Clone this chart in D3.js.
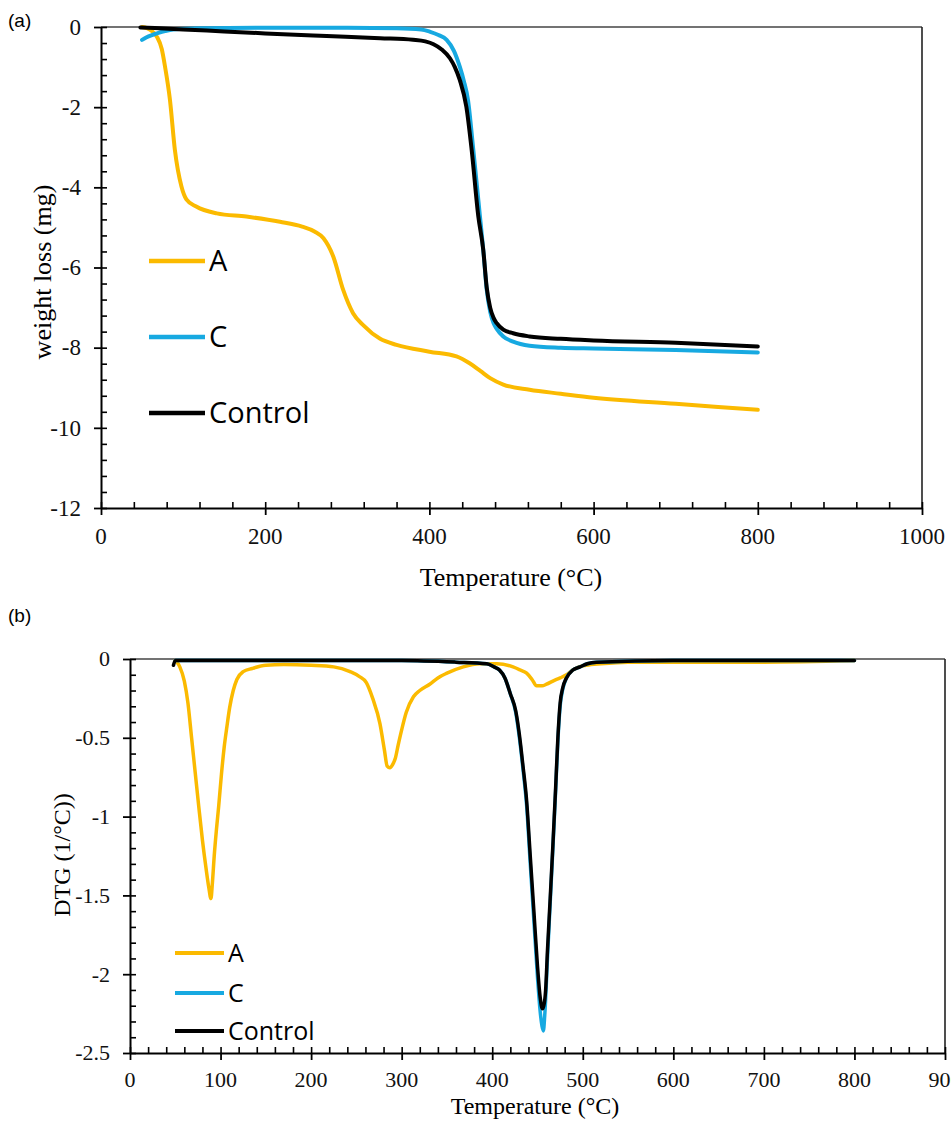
<!DOCTYPE html>
<html>
<head>
<meta charset="utf-8">
<script src="https://cdn.jsdelivr.net/npm/d3@7"></script>
<style>
  body { margin: 0; background: #fff; }
  .axis path, .axis line { stroke: #000; }
  svg text.lbl { font-family: "Liberation Serif", serif; }
</style>
</head>
<body>
<div id="chart"></div>
<script>
// ---- panel (a) TGA: weight loss (mg) vs temperature ----
const tgaTempA = [50, 56, 62, 68, 74, 78, 84, 90, 98, 104, 116, 141, 177, 218, 245, 260, 271, 283, 295, 307, 320, 340, 360, 400, 433, 449, 462, 474, 490, 522, 560, 600, 700, 800];
const tgaLossA = [0, -0.03, -0.1, -0.24, -0.55, -0.99, -1.82, -3.07, -3.98, -4.3, -4.48, -4.65, -4.73, -4.86, -4.98, -5.1, -5.27, -5.73, -6.56, -7.14, -7.45, -7.78, -7.93, -8.1, -8.22, -8.39, -8.58, -8.76, -8.92, -9.05, -9.15, -9.25, -9.4, -9.55];

const tgaTempC = [50, 55, 62, 68, 78, 88, 120, 200, 300, 360, 390, 401, 411, 421, 430, 437, 442, 447, 453.5, 461.6, 465.6, 469.8, 474, 478, 482, 490, 502, 522, 560, 600, 700, 800];
const tgaLossC = [-0.32, -0.26, -0.2, -0.16, -0.1, -0.06, -0.03, -0.02, -0.02, -0.03, -0.06, -0.12, -0.2, -0.32, -0.6, -0.99, -1.35, -1.82, -3.07, -4.73, -5.56, -6.55, -7.1, -7.38, -7.53, -7.72, -7.85, -7.95, -8.0, -8.02, -8.06, -8.12];

const tgaTempCtrl = [48, 100, 150, 200, 267, 340, 380, 395, 405, 415, 425, 431, 437, 445, 451.5, 459.6, 465.6, 469.8, 474, 478, 482, 490, 502, 522, 560, 600, 700, 800];
const tgaLossCtrl = [-0.01, -0.06, -0.11, -0.16, -0.22, -0.28, -0.32, -0.36, -0.43, -0.56, -0.78, -1.0, -1.32, -1.99, -3.07, -4.73, -5.56, -6.5, -7.0, -7.25, -7.39, -7.55, -7.64, -7.72, -7.78, -7.82, -7.88, -7.97];

const tgaXTicks = [0, 200, 400, 600, 800, 1000];
const tgaYTicks = [-12, -10, -8, -6, -4, -2, 0];

// ---- panel (b) DTG (1/°C) vs temperature ----
const dtgTempA = [50, 55, 60, 64, 68, 72, 76, 80, 84, 87, 89.4, 91, 93, 95.5, 98, 101, 104, 107, 110, 114, 118, 125, 135, 150, 170, 200, 225, 243, 253, 261, 268, 276, 281, 284, 287, 290, 293, 296, 300, 305, 313, 320, 331, 340, 350, 368, 386, 405, 423, 431, 438, 444, 449, 455, 460, 467, 475, 482, 489, 496, 504, 520, 550, 600, 700, 800];
const dtgValA = [-0.01, -0.05, -0.14, -0.28, -0.5, -0.72, -0.94, -1.15, -1.33, -1.45, -1.52, -1.42, -1.25, -1.08, -0.93, -0.73, -0.56, -0.43, -0.31, -0.2, -0.13, -0.08, -0.06, -0.04, -0.035, -0.04, -0.05, -0.08, -0.11, -0.15, -0.25, -0.41, -0.58, -0.68, -0.69, -0.67, -0.63, -0.55, -0.45, -0.34, -0.24, -0.2, -0.16, -0.12, -0.09, -0.05, -0.03, -0.03, -0.05, -0.07, -0.09, -0.13, -0.17, -0.17, -0.16, -0.14, -0.12, -0.1, -0.07, -0.05, -0.04, -0.03, -0.02, -0.02, -0.02, -0.01];

const dtgTempC = [50, 100, 200, 300, 360, 394, 402, 408, 414, 420, 426, 430, 434, 438, 442, 446, 450, 453, 455, 456.5, 458, 461, 464, 467, 470, 472.5, 475, 478, 482, 489, 497, 505, 515, 600, 700, 800];
const dtgValC = [-0.01, -0.01, -0.01, -0.01, -0.02, -0.03, -0.05, -0.07, -0.12, -0.22, -0.34, -0.5, -0.7, -0.93, -1.3, -1.66, -2.02, -2.24, -2.33, -2.36, -2.26, -1.9, -1.55, -1.2, -0.84, -0.52, -0.3, -0.19, -0.12, -0.07, -0.05, -0.03, -0.02, -0.01, -0.01, -0.01];

const dtgTempCtrl = [48, 50, 100, 200, 300, 360, 394, 402, 408, 414, 420, 426, 430, 434, 438, 442, 446, 450, 453, 455.4, 457, 459, 461, 464, 467, 470, 472.5, 475, 478, 482, 489, 497, 505, 515, 600, 700, 800];
const dtgValCtrl = [-0.04, -0.01, -0.01, -0.01, -0.01, -0.02, -0.03, -0.05, -0.07, -0.12, -0.22, -0.33, -0.48, -0.68, -0.9, -1.25, -1.6, -1.95, -2.15, -2.22, -2.2, -2.1, -1.85, -1.52, -1.18, -0.82, -0.5, -0.28, -0.18, -0.12, -0.07, -0.05, -0.03, -0.02, -0.01, -0.01, -0.01];

const dtgXTicks = [0, 100, 200, 300, 400, 500, 600, 700, 800, 900];
const dtgYTicks = [-2.5, -2, -1.5, -1, -0.5, 0];

const seriesNames = ["A", "C", "Control"];
const seriesColors = ["#FBBA00", "#17A9E1", "#000000"];

const serif = "Liberation Serif";
const width = 951, height = 1121;
const svg = d3.select("#chart").append("svg")
    .attr("width", width)
    .attr("height", height)
    .attr("font-family", serif);

function zip(xs, ys) {
    return xs.map((x, i) => ({t: x, v: ys[i]}));
}

// tick labels drawn as plain text so the serif face is kept
function tickLabels(g, ticks, pos, cfg) {
    g.selectAll(null).data(ticks).enter().append("text")
        .attr("class", "lbl")
        .attr("font-family", serif)
        .attr("font-size", cfg.tickFont)
        .attr("fill", "#111")
        .each(function (d) {
            let p = pos(d);
            d3.select(this).attr("x", p[0]).attr("y", p[1])
                .attr("text-anchor", p[2]).attr("dy", p[3]);
        })
        .text(d => String(d));
}

function drawPanel(cfg) {
    let g = svg.append("g");
    let x = d3.scaleLinear().domain(cfg.xDomain).range(cfg.xRange);
    let y = d3.scaleLinear().domain(cfg.yDomain).range(cfg.yRange);
    let left = cfg.xRange[0], right = cfg.xRange[1];
    let top = cfg.yRange[1], bottom = cfg.yRange[0];

    // thin frame on top and right
    g.append("line").attr("x1", left).attr("x2", right).attr("y1", top).attr("y2", top)
        .attr("stroke", "#444").attr("stroke-width", 1.3);
    g.append("line").attr("x1", right).attr("x2", right).attr("y1", top).attr("y2", bottom)
        .attr("stroke", "#222").attr("stroke-width", 1.6);

    let xMinor = d3.range(cfg.xDomain[0], cfg.xDomain[1] + 1e-9, cfg.xMinorStep);
    let yMinor = d3.range(cfg.yDomain[0], cfg.yDomain[1] + 1e-9, cfg.yMinorStep);

    // inside ticks (major + minor)
    g.append("g").attr("class", "axis")
        .attr("transform", "translate(0," + bottom + ")")
        .call(d3.axisTop(x).tickValues(xMinor).tickSize(6).tickSizeOuter(0).tickFormat(""))
        .call(a => a.select(".domain").remove())
        .selectAll("line").attr("stroke-width", 1.6);
    g.append("g").attr("class", "axis")
        .attr("transform", "translate(" + left + ",0)")
        .call(d3.axisRight(y).tickValues(yMinor).tickSize(6).tickSizeOuter(0).tickFormat(""))
        .call(a => a.select(".domain").remove())
        .selectAll("line").attr("stroke-width", 1.6);

    // outside major ticks
    let xAxis = g.append("g").attr("class", "axis")
        .attr("transform", "translate(0," + bottom + ")")
        .call(d3.axisBottom(x).tickValues(cfg.xTicks).tickSize(7).tickSizeOuter(0).tickFormat(""));
    xAxis.select(".domain").attr("stroke-width", 2);
    xAxis.selectAll("line").attr("stroke-width", 1.8);

    let yAxis = g.append("g").attr("class", "axis")
        .attr("transform", "translate(" + left + ",0)")
        .call(d3.axisLeft(y).tickValues(cfg.yTicks).tickSize(7).tickSizeOuter(0).tickFormat(""));
    yAxis.select(".domain").attr("stroke-width", 2);
    yAxis.selectAll("line").attr("stroke-width", 1.8);

    tickLabels(g, cfg.xTicks, d => [x(d), bottom + cfg.xPad, "middle", "0.71em"], cfg);
    tickLabels(g, cfg.yTicks, d => [left - cfg.yPad, y(d), "end", "0.34em"], cfg);

    // curves
    let line = d3.line()
        .x(d => x(d.t))
        .y(d => y(d.v))
        .curve(d3.curveMonotoneX);
    cfg.series.forEach((s, i) => {
        g.append("path")
            .attr("d", line(s))
            .attr("fill", "none")
            .attr("stroke", seriesColors[i])
            .attr("stroke-width", cfg.lineWidth)
            .attr("stroke-linejoin", "round")
            .attr("stroke-linecap", "round");
    });

    // legend
    seriesNames.forEach((name, i) => {
        let ly = cfg.legendY[i];
        g.append("line")
            .attr("x1", cfg.legendX[0]).attr("x2", cfg.legendX[1])
            .attr("y1", ly).attr("y2", ly)
            .attr("stroke", seriesColors[i])
            .attr("stroke-width", cfg.legendWidth);
        g.append("text")
            .attr("x", cfg.legendX[1] + 4)
            .attr("y", ly)
            .attr("dy", "0.36em")
            .attr("font-family", "Open Sans")
            .attr("font-size", cfg.legendFont)
            .text(name);
    });

    // titles
    g.append("text")
        .attr("class", "lbl")
        .attr("x", cfg.xTitle[0]).attr("y", cfg.xTitle[1])
        .attr("text-anchor", "middle")
        .attr("font-size", cfg.titleFont)
        .text("Temperature (°C)");
    g.append("text")
        .attr("class", "lbl")
        .attr("transform", "translate(" + cfg.yTitle[0] + "," + cfg.yTitle[1] + ") rotate(-90)")
        .attr("text-anchor", "middle")
        .attr("dy", "0.35em")
        .attr("font-size", cfg.titleFont)
        .text(cfg.yLabel);
    g.append("text")
        .attr("x", 8).attr("y", cfg.panelY)
        .attr("font-family", "Liberation Sans")
        .attr("font-size", 19)
        .text(cfg.panel);
}

drawPanel({
    panel: "(a)", panelY: 27,
    xDomain: [0, 1000], xRange: [101, 922],
    yDomain: [-12, 0], yRange: [508, 27],
    xTicks: tgaXTicks, yTicks: tgaYTicks,
    xMinorStep: 40, yMinorStep: 0.4,
    xPad: 20, yPad: 20, tickFont: 23,
    series: [zip(tgaTempA, tgaLossA), zip(tgaTempC, tgaLossC), zip(tgaTempCtrl, tgaLossCtrl)],
    lineWidth: 4,
    legendX: [149, 205], legendY: [261, 337, 413], legendWidth: 4.5, legendFont: 29,
    titleFont: 26, xTitle: [511, 586], yTitle: [42, 272],
    yLabel: "weight loss (mg)"
});

drawPanel({
    panel: "(b)", panelY: 622,
    xDomain: [0, 900], xRange: [130, 945],
    yDomain: [-2.5, 0], yRange: [1053, 659],
    xTicks: dtgXTicks, yTicks: dtgYTicks,
    xMinorStep: 20, yMinorStep: 0.1,
    xPad: 18, yPad: 20, tickFont: 22,
    series: [zip(dtgTempA, dtgValA), zip(dtgTempC, dtgValC), zip(dtgTempCtrl, dtgValCtrl)],
    lineWidth: 3.5,
    legendX: [175, 224], legendY: [953, 993, 1031], legendWidth: 4, legendFont: 25,
    titleFont: 24, xTitle: [535, 1114], yTitle: [62, 855],
    yLabel: "DTG (1/°C))"
});
</script>
</body>
</html>
